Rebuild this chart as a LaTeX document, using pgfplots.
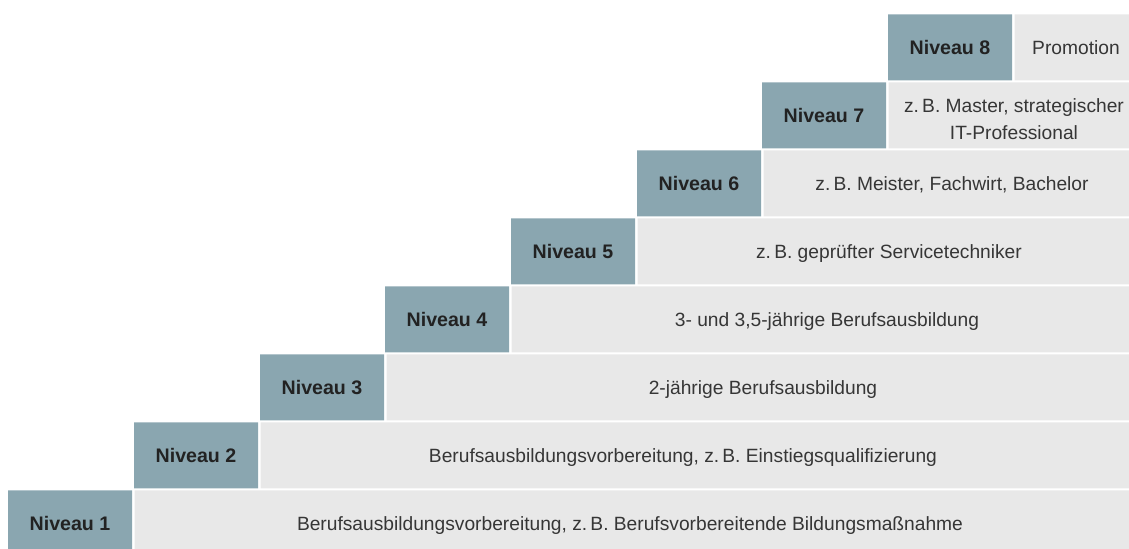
\documentclass[border=0pt]{standalone}
\usepackage{pgfplots}
\usepackage{pgfplotstable}
\pgfplotsset{compat=1.18}
\usepackage{fontspec}
\setmainfont{Liberation Sans}
\definecolor{niveau}{HTML}{8AA6B0}
\definecolor{feld}{HTML}{E8E8E8}
\definecolor{schrift}{HTML}{363636}
\definecolor{dunkel}{HTML}{222222}

% x: left edge of each step, y: row centre (pixel units, y upwards)
\pgfplotstableread{
y     start  teal  gap  rest
25.5  8      124   2.5  1005.5
93.5  134    124   2.5  879.5
161.5 260    124   2.5  753.5
229.5 385    124   2.5  628.5
297.5 511    124   2.5  502.5
365.5 637    124   2.5  376.5
433.5 762    124   2.5  251.5
501.5 888    124   2.5  125.5
}\stufen

\tikzset{
  niv/.style={anchor=base, text=dunkel, yshift=-3.6bp, font=\fontsize{9.8bp}{12bp}\selectfont\bfseries},
  besch/.style={anchor=base, text=schrift, yshift=-3.5bp, font=\fontsize{9.6bp}{12bp}\selectfont},
}

\begin{document}
\begin{tikzpicture}
\begin{axis}[
  name=ax,
  scale only axis,
  width=564.5bp, height=274.5bp,
  xmin=0, xmax=1129, ymin=0, ymax=549,
  hide axis,
  xbar stacked,
  bar width=66,
]
\addplot[draw=none, fill=none] table[x=start, y=y] {\stufen};
\addplot[draw=none, fill=niveau] table[x=teal, y=y] {\stufen};
\addplot[draw=none, fill=none] table[x=gap, y=y] {\stufen};
\addplot[draw=none, fill=feld] table[x=rest, y=y] {\stufen};
\end{axis}
% labels in the same pixel units as the axis (1 unit = 0.5bp)
\begin{scope}[shift={(ax.south west)}, x=0.5bp, y=0.5bp]
\node[niv] at (70,25.5) {Niveau 1};
\node[niv] at (196,93.5) {Niveau 2};
\node[niv] at (322,161.5) {Niveau 3};
\node[niv] at (447,229.5) {Niveau 4};
\node[niv] at (573,297.5) {Niveau 5};
\node[niv] at (699,365.5) {Niveau 6};
\node[niv] at (824,433.5) {Niveau 7};
\node[niv] at (950,501.5) {Niveau 8};

\node[besch] at (630,25.5) {Berufsausbildungsvorbereitung, z.\,B. Berufsvorbereitende Bildungsmaßnahme};
\node[besch] at (683,93.5) {Berufsausbildungsvorbereitung, z.\,B. Einstiegsqualifizierung};
\node[besch] at (763,161.5) {2-jährige Berufsausbildung};
\node[besch] at (827,229.5) {3- und 3,5-jährige Berufsausbildung};
\node[besch] at (889,297.5) {z.\,B. geprüfter Servicetechniker};
\node[besch] at (952,365.5) {z.\,B. Meister, Fachwirt, Bachelor};
\node[besch, yshift=3.5bp] at (1014,437) {z.\,B. Master, strategischer};
\node[besch, yshift=3.5bp] at (1014,410) {IT-Professional};
\node[besch] at (1076,501.5) {Promotion};
\end{scope}
\pgfresetboundingbox
\path[use as bounding box] (ax.south west) rectangle (ax.north east);
\end{tikzpicture}
\end{document}
